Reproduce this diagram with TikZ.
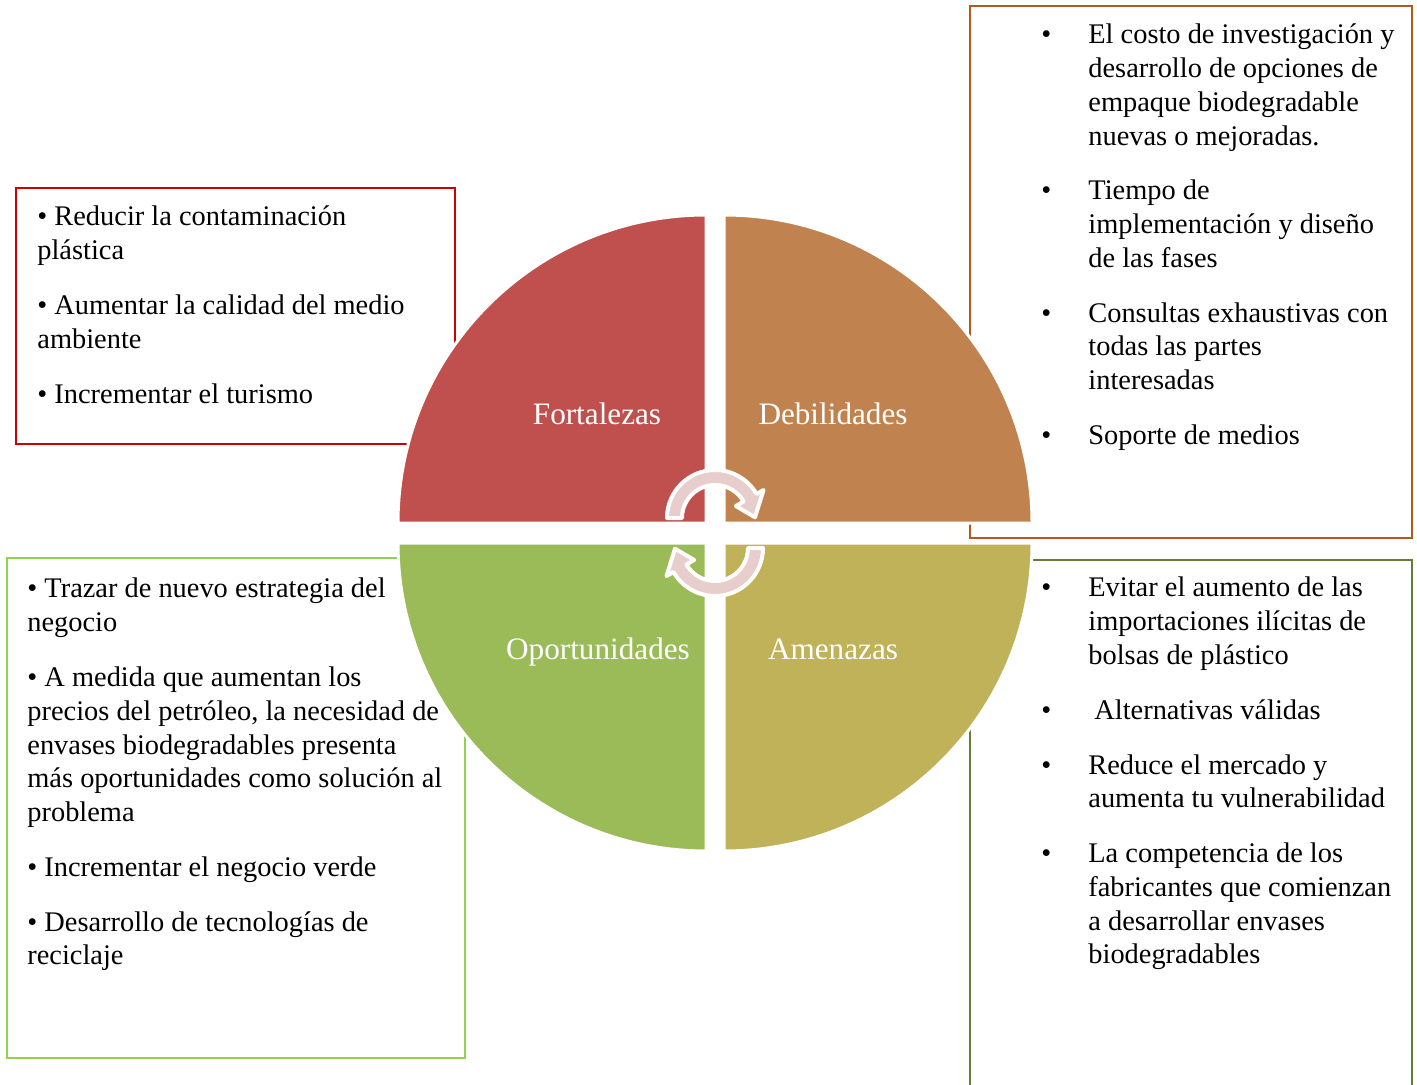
\documentclass[tikz,border=0pt]{standalone}
\usepackage{fontspec}
\setmainfont{Liberation Serif}
\definecolor{fortfill}{RGB}{192,80,77}
\definecolor{debfill}{RGB}{192,131,79}
\definecolor{oppfill}{RGB}{155,187,89}
\definecolor{amefill}{RGB}{191,178,88}
\definecolor{fortline}{RGB}{204,0,0}
\definecolor{debline}{RGB}{178,90,28}
\definecolor{oppline}{RGB}{146,208,80}
\definecolor{ameline}{RGB}{100,125,55}
\definecolor{arrowpink}{RGB}{232,205,205}
\pgfdeclarelayer{background layer}
\pgfsetlayers{background layer,main}
\tikzstyle{quad}=[draw=white,line width=1.5pt]
\tikzstyle{quadtitle}=[anchor=base,text=white,inner sep=0pt,font=\fontsize{15.6}{17}\selectfont]
\tikzstyle{boxtext}=[anchor=north west,inner sep=0pt,align=left,font=\fontsize{14.2}{16.85}\selectfont]
\tikzstyle{boxline}=[line width=1.2pt]
\tikzstyle{cyclearrow}=[fill=arrowpink,draw=white,line width=2pt,line join=round]
\newcommand{\bul}{\makebox[23.5pt][l]{\textbullet}}
\newcommand{\ind}{\hspace*{23.5pt}}
\newcommand{\pgap}{\\[10.6pt]}

\begin{document}
\begin{tikzpicture}[x=0.5pt,y=-0.5pt]
			\useasboundingbox (0,0) rectangle (1417,1085);
			
			% the four quarters
			\filldraw [quad,fill=fortfill] (706,523) -- ++(180:308) arc[start angle=180,end angle=270,radius=308] -- cycle;
			\filldraw [quad,fill=debfill] (724,523) -- ++(270:308) arc[start angle=270,end angle=360,radius=308] -- cycle;
			\filldraw [quad,fill=oppfill] (706,543) -- ++(90:308) arc[start angle=90,end angle=180,radius=308] -- cycle;
			\filldraw [quad,fill=amefill] (724,543) -- ++(0:308) arc[start angle=0,end angle=90,radius=308] -- cycle;
			
			\node (fort) at (597,424) [quadtitle] {Fortalezas};
			\node (deb) at (833,424) [quadtitle] {Debilidades};
			\node (opp) at (598,659) [quadtitle] {Oportunidades};
			\node (ame) at (833,659) [quadtitle] {Amenazas};
			
			% arrows in the middle
			\begin{scope}[shift={(715,518)}]
				\filldraw [cyclearrow] (180:48) arc[start angle=180,end angle=330,radius=48] -- (330:56) -- (359:40) -- (330:24) -- (330:33) arc[start angle=330,end angle=180,radius=33] -- cycle;
			\end{scope}
			\begin{scope}[shift={(715,548)},rotate=180]
				\filldraw [cyclearrow] (180:48) arc[start angle=180,end angle=330,radius=48] -- (330:56) -- (359:40) -- (330:24) -- (330:33) arc[start angle=330,end angle=180,radius=33] -- cycle;
			\end{scope}
			
			\node (forttext) at (37,202) [boxtext] {\strut\textbullet{} Reducir la contaminación\\ plástica\pgap
				\textbullet{} Aumentar la calidad del medio\\ ambiente\pgap
				\textbullet{} Incrementar el turismo};
			\node (debtext) at (1041,20) [boxtext] {\strut\bul El costo de investigación y\\ \ind desarrollo de opciones de\\ \ind empaque biodegradable\\ \ind nuevas o mejoradas.\pgap
				\bul Tiempo de\\ \ind implementación y diseño\\ \ind de las fases\pgap
				\bul Consultas exhaustivas con\\ \ind todas las partes\\ \ind interesadas\pgap
				\bul Soporte de medios};
			\node (opptext) at (27,574) [boxtext] {\strut\textbullet{} Trazar de nuevo estrategia del\\ negocio\pgap
				\textbullet{} A medida que aumentan los\\ precios del petróleo, la necesidad de\\ envases biodegradables presenta\\ más oportunidades como solución al\\ problema\pgap
				\textbullet{} Incrementar el negocio verde\pgap
				\textbullet{} Desarrollo de tecnologías de\\ reciclaje};
			\node (ametext) at (1041,573) [boxtext] {\strut\bul Evitar el aumento de las\\ \ind importaciones ilícitas de\\ \ind bolsas de plástico\pgap
				\bul\hspace*{3pt}Alternativas válidas\pgap
				\bul Reduce el mercado y\\ \ind aumenta tu vulnerabilidad\pgap
				\bul La competencia de los\\ \ind fabricantes que comienzan\\ \ind a desarrollar envases\\ \ind biodegradables};
			
			\begin{pgfonlayer}{background layer}
				\draw [boxline,fortline] (16,188) rectangle (455,444);
				\draw [boxline,debline] (970,6) rectangle (1412,538);
				\draw [boxline,oppline] (7,558) rectangle (465,1058);
				\draw [boxline,ameline] (970,1090) |- (1412,560) -- (1412,1090);
			\end{pgfonlayer}
		\end{tikzpicture}
\end{document}
